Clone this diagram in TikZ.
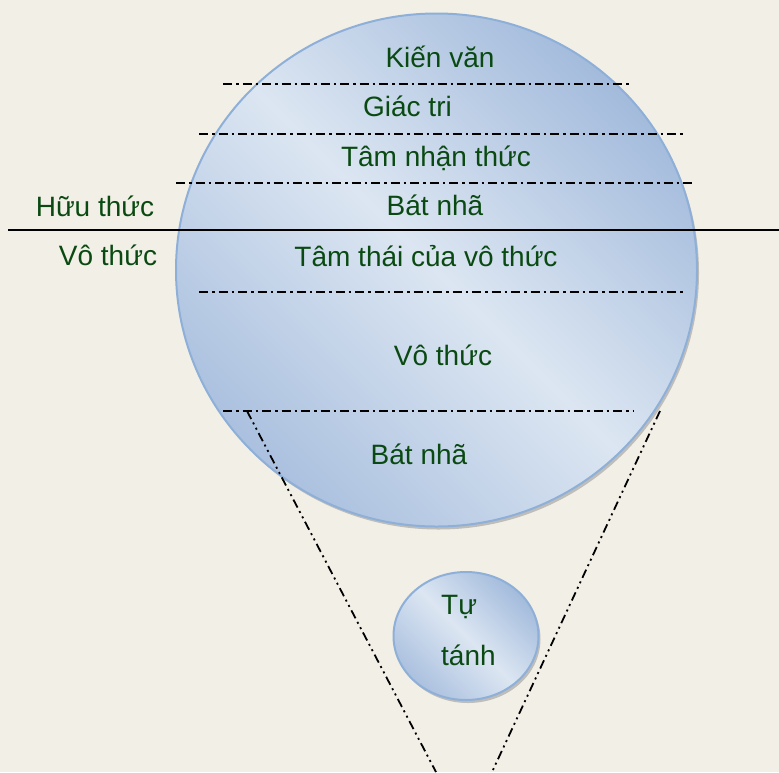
\documentclass[tikz,border=0pt]{standalone}
\usepackage{fontspec}
\setmainfont{Liberation Sans}
\usepackage{tikz}
\usetikzlibrary{shapes.geometric}
\usetikzlibrary{shadows}
\definecolor{paper}{HTML}{F2EFE7}
\definecolor{leaf}{HTML}{0A4A12}
\definecolor{rimblue}{HTML}{8EB0D8}
\definecolor{deepblue}{HTML}{A3BBDC}
\definecolor{paleblue}{HTML}{DCE6F2}
\tikzstyle{tier}=[text=leaf,font=\fontsize{28}{34}\selectfont,anchor=base,inner sep=0pt]
\tikzstyle{bubble}=[ellipse,inner sep=0pt,draw=rimblue,line width=2pt,top color=deepblue,bottom color=deepblue!92,middle color=paleblue,shading angle=-45,drop shadow={shadow xshift=2pt,shadow yshift=-3pt,fill=black!45,opacity=.5}]
\tikzstyle{cut}=[line width=2pt,dash pattern=on 9pt off 4pt on 2.5pt off 4pt]
\tikzstyle{cone}=[line width=1.8pt,dash pattern=on 9pt off 4pt on 2pt off 4pt on 2pt off 4pt]

\begin{document}
\begin{tikzpicture}[x=1pt,y=-1pt]

      \fill[paper] (0,0) rectangle (779,772);
      \useasboundingbox (0,0) rectangle (779,772);

      \node[bubble,minimum width=521pt,minimum height=513pt] (mind) at (436.5,270) {};

      \coordinate (k1) at (223,84);  \coordinate (k2) at (632,84);
      \coordinate (g1) at (199,134); \coordinate (g2) at (683,134);
      \coordinate (t1) at (176,183); \coordinate (t2) at (695,183);
      \coordinate (h1) at (8,230);   \coordinate (h2) at (779,230);
      \coordinate (v1) at (199,292); \coordinate (v2) at (683,292);
      \coordinate (b1) at (223,411); \coordinate (b2) at (633,411);
      \coordinate (cl) at (247,411); \coordinate (cr) at (660,411);
      \coordinate (el) at (436,772); \coordinate (er) at (492,772);

      \draw[cut] (k1) -- (k2);
      \draw[cut] (g1) -- (g2);
      \draw[cut] (t1) -- (t2);
      \draw[line width=1.8pt] (h1) -- (h2);
      \draw[cut] (v1) -- (v2);
      \draw[cut] (b1) -- (b2);

      \draw[cone] (cl) -- (el);
      \draw[cone] (cr) -- (er);

      \node[bubble,minimum width=145pt,minimum height=128pt] (self) at (466,636) {};

      \node[tier] (kienvan) at (440,67) {Kiến văn};
      \node[tier] (giactri) at (407.5,116) {Giác tri};
      \node[tier] (nhanthuc) at (436,166) {Tâm nhận thức};
      \node[tier] (batnhatop) at (435,215) {Bát nhã};
      \node[tier] (huuthuc) at (95,216) {Hữu thức};
      \node[tier] (vothucside) at (108,265) {Vô thức};
      \node[tier] (tamthai) at (426,266) {Tâm thái của vô thức};
      \node[tier] (vothuc) at (443,365) {Vô thức};
      \node[tier] (batnhalow) at (419,464) {Bát nhã};
      \node[tier,anchor=base west] (tu) at (441,614) {Tự};
      \node[tier,anchor=base west] (tanh) at (441,665) {tánh};

    \end{tikzpicture}
\end{document}
